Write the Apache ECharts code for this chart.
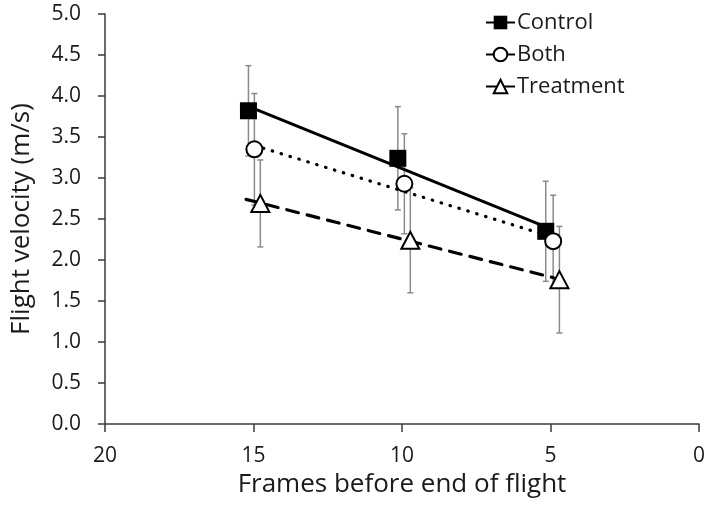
<!DOCTYPE html>
<html>
<head>
<meta charset="utf-8">
<script src="https://cdn.jsdelivr.net/npm/echarts@6/dist/echarts.min.js"></script>
<style>
html,body{margin:0;padding:0;background:#fff;}
#chart{width:708px;height:515px;}
</style>
</head>
<body>
<div id="chart"></div>
<script>
// ---- data ----
var seriesNames = ['Control', 'Both', 'Treatment'];
var controlX = [15.17, 10.14, 5.16];
var controlY = [3.82, 3.24, 2.35];
var controlErr = [0.55, 0.63, 0.61];
var bothX = [14.97, 9.92, 4.91];
var bothY = [3.35, 2.93, 2.23];
var bothErr = [0.68, 0.61, 0.56];
var treatX = [14.77, 9.72, 4.70];
var treatY = [2.69, 2.24, 1.76];
var treatErr = [0.53, 0.64, 0.65];
// trend line extents (x from, x to)
var controlTrendRange = [15.17, 5.16];
var bothTrendRange = [14.97, 4.91];
var treatTrendRange = [15.25, 4.90];
var xTicks = [0, 5, 10, 15, 20];
var yTicks = [0, 0.5, 1, 1.5, 2, 2.5, 3, 3.5, 4, 4.5, 5];

// ---- helpers ----
function pairs(xs, ys) { return xs.map(function (x, i) { return [x, ys[i]]; }); }
function errData(xs, ys, es) { return xs.map(function (x, i) { return [x, ys[i] - es[i], ys[i] + es[i]]; }); }
function trend(xs, ys, range) {
  var n = xs.length, mx = 0, my = 0;
  for (var i = 0; i < n; i++) { mx += xs[i]; my += ys[i]; }
  mx /= n; my /= n;
  var sxy = 0, sxx = 0;
  for (i = 0; i < n; i++) { sxy += (xs[i] - mx) * (ys[i] - my); sxx += (xs[i] - mx) * (xs[i] - mx); }
  var b = sxy / sxx, a = my - b * mx;
  return range.map(function (x) { return [x, a + b * x]; });
}

var FONT = 'Open Sans';
var TXT = '#1a1a1a';
var AXIS = '#3a3a3a';

function errSeries(data) {
  return {
    type: 'custom',
    z: 1,
    silent: true,
    data: data,
    renderItem: function (params, api) {
      var x = api.value(0);
      var lo = api.coord([x, api.value(1)]);
      var hi = api.coord([x, api.value(2)]);
      var c = 3;
      var st = { stroke: '#8a8a8a', lineWidth: 1.5 };
      return {
        type: 'group',
        children: [
          { type: 'line', shape: { x1: lo[0], y1: lo[1], x2: hi[0], y2: hi[1] }, style: st },
          { type: 'line', shape: { x1: hi[0] - c, y1: hi[1], x2: hi[0] + c, y2: hi[1] }, style: st },
          { type: 'line', shape: { x1: lo[0] - c, y1: lo[1], x2: lo[0] + c, y2: lo[1] }, style: st }
        ]
      };
    }
  };
}

function trendSeries(data, type, width) {
  return {
    type: 'line',
    z: 2,
    silent: true,
    data: data,
    symbol: 'none',
    lineStyle: { color: '#000', width: width, type: type, cap: 'round' }
  };
}

function markerSeries(name, data, symbol, fill, size) {
  return {
    name: name,
    type: 'line',
    z: 3,
    data: data,
    symbol: symbol,
    symbolSize: size,
    showSymbol: true,
    lineStyle: { opacity: 0 },
    itemStyle: { color: fill, borderColor: '#000', borderWidth: fill === '#000' ? 0 : 2, opacity: 1 }
  };
}

var chart = echarts.init(document.getElementById('chart'), null, { renderer: 'canvas' });
chart.setOption({
  animation: false,
  backgroundColor: '#fff',
  grid: { left: 105, right: 9, top: 14, bottom: 91 },
  legend: {
    orient: 'vertical',
    left: 480,
    top: 6,
    itemWidth: 29,
    itemHeight: 17,
    itemGap: 9,
    data: seriesNames,
    textStyle: { fontFamily: FONT, fontSize: 22, color: TXT, lineHeight: 23, padding: [0, 0, 0, -3] },
    lineStyle: { color: '#000', width: 2, opacity: 1, type: 'solid' }
  },
  xAxis: {
    type: 'value',
    inverse: true,
    min: 0, max: 20, interval: 5,
    name: 'Frames before end of flight',
    nameLocation: 'middle',
    nameGap: 43,
    nameTextStyle: { fontFamily: FONT, fontSize: 26, color: TXT },
    axisLine: { onZero: false, lineStyle: { color: AXIS, width: 1.5 } },
    axisTick: { show: true, inside: false, length: 8, lineStyle: { color: AXIS, width: 1.5 } },
    axisLabel: { margin: 22, fontFamily: FONT, fontSize: 21, color: TXT,
      formatter: function (v) { return xTicks.indexOf(v) >= 0 ? String(v) : ''; } },
    splitLine: { show: false }
  },
  yAxis: {
    type: 'value',
    min: 0, max: 5, interval: 0.5,
    name: 'Flight velocity (m/s)',
    nameLocation: 'middle',
    nameGap: 70,
    nameTextStyle: { fontFamily: FONT, fontSize: 26, color: TXT },
    axisLine: { show: true, onZero: false, lineStyle: { color: AXIS, width: 1.5 } },
    axisTick: { show: true, inside: false, length: 7, lineStyle: { color: AXIS, width: 1.5 } },
    axisLabel: { margin: 24, fontFamily: FONT, fontSize: 21, color: TXT,
      formatter: function (v) { return yTicks.indexOf(v) >= 0 ? v.toFixed(1) : ''; } },
    splitLine: { show: false }
  },
  series: [
    errSeries(errData(controlX, controlY, controlErr)),
    errSeries(errData(bothX, bothY, bothErr)),
    errSeries(errData(treatX, treatY, treatErr)),
    trendSeries(trend(controlX, controlY, controlTrendRange), 'solid', 3),
    trendSeries(trend(bothX, bothY, bothTrendRange), [0.5, 8.8], 3.2),
    trendSeries(trend(treatX, treatY, treatTrendRange), [12, 9], 3.2),
    markerSeries('Control', pairs(controlX, controlY), 'rect', '#000', 17),
    markerSeries('Both', pairs(bothX, bothY), 'circle', '#fff', 16),
    markerSeries('Treatment', pairs(treatX, treatY), 'triangle', '#fff', [18, 17])
  ]
});
</script>
</body>
</html>
